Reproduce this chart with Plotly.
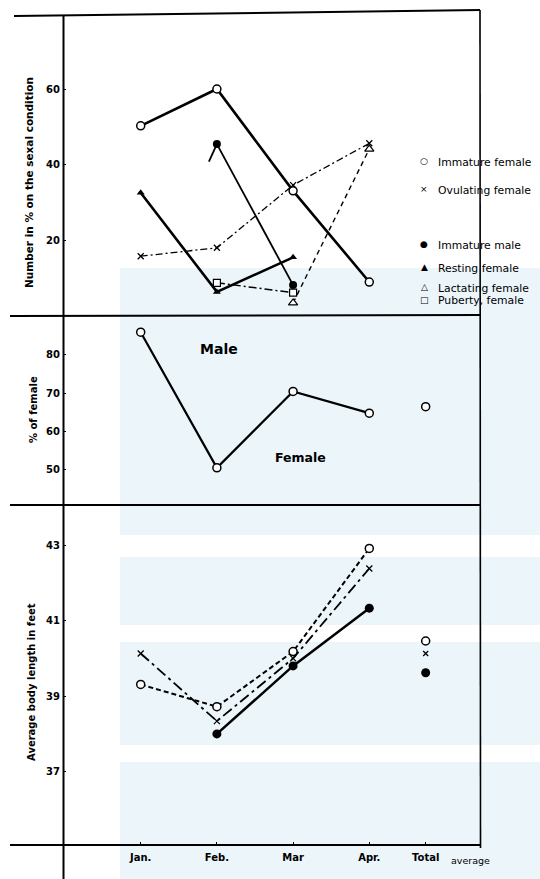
import plotly.graph_objects as go

# ---------------- data ----------------
months = ["Jan.", "Feb.", "Mar", "Apr."]
month_x = [1, 2, 3, 4]
total_x = 4.74
total_label = "Total"

# Panel 1: number in % on the sexual condition
imm_female_pct = [50.3, 60.0, 33.2, 9.2]
ovul_female_pct = [16.0, 18.2, 34.7, 45.7]
imm_male_x = [2, 3]
imm_male_pct = [45.5, 8.4]
imm_male_stub_x = [1.895, 2]
imm_male_stub_pct = [40.9, 45.5]
resting_x = [1, 2, 3]
resting_pct = [32.7, 6.6, 15.7]
lact_x = [3, 4]
lact_pct = [3.7, 44.2]
pub_x = [2, 3]
pub_pct = [9.0, 6.4]

# Panel 2: % of female
female_share = [86.0, 50.3, 70.4, 64.7]
female_share_total = 66.4

# Panel 3: average body length in feet
len_imm_female = [39.31, 38.72, 40.18, 42.91]
len_ovul = [40.13, 38.34, 40.0, 42.38]
len_male_x = [2, 3, 4]
len_male = [38.0, 39.8, 41.33]
len_total_female = 40.46
len_total_ovul = 40.13
len_total_male = 39.62

legend_items = ["Immature female", "Ovulating female", "Immature male",
                "Resting female", "Lactating female", "Puberty, female"]
legend_syms = ["○", "×", "●", "▲", "△", "□"]

# ---------------- layout helpers ----------------
W, H = 540, 879
L, R, T, B = 63, 60, 13, 34
PW, PH = W - L - R, H - T - B


def px(xp):
    return (xp - L) / PW


def py(yp):
    return (H - B - yp) / PH


FONT = "DejaVu Sans"
fig = go.Figure()

# ---- panel 1 ----
fig.add_trace(go.Scatter(x=month_x, y=imm_female_pct, yaxis="y", mode="lines+markers",
                         line=dict(color="black", width=2.6),
                         marker=dict(symbol="circle", size=8, color="white",
                                     line=dict(color="black", width=1.5))))
fig.add_trace(go.Scatter(x=month_x, y=ovul_female_pct, yaxis="y", mode="lines+markers",
                         line=dict(color="black", width=1.3, dash="7px,3px,2px,3px"),
                         marker=dict(symbol="x-thin", size=6, color="black",
                                     line=dict(color="black", width=1.3))))
fig.add_trace(go.Scatter(x=imm_male_stub_x, y=imm_male_stub_pct, yaxis="y", mode="lines",
                         line=dict(color="black", width=1.8)))
fig.add_trace(go.Scatter(x=imm_male_x, y=imm_male_pct, yaxis="y", mode="lines+markers",
                         line=dict(color="black", width=1.8),
                         marker=dict(symbol="circle", size=8, color="black")))
fig.add_trace(go.Scatter(x=resting_x, y=resting_pct, yaxis="y", mode="lines+markers",
                         line=dict(color="black", width=2.6),
                         marker=dict(symbol="triangle-up", size=7, color="black")))
fig.add_trace(go.Scatter(x=lact_x, y=lact_pct, yaxis="y", mode="lines+markers",
                         line=dict(color="black", width=1.4, dash="5px,4px"),
                         marker=dict(symbol="triangle-up", size=8, color="white",
                                     line=dict(color="black", width=1.2))))
fig.add_trace(go.Scatter(x=pub_x, y=pub_pct, yaxis="y", mode="lines+markers",
                         line=dict(color="black", width=1.5, dash="8px,3px,2px,3px"),
                         marker=dict(symbol="square", size=7, color="white",
                                     line=dict(color="black", width=1.2))))

# ---- panel 2 ----
fig.add_trace(go.Scatter(x=month_x, y=female_share, yaxis="y2", mode="lines+markers",
                         line=dict(color="black", width=2.2),
                         marker=dict(symbol="circle", size=8, color="white",
                                     line=dict(color="black", width=1.5))))
fig.add_trace(go.Scatter(x=[total_x], y=[female_share_total], yaxis="y2", mode="markers",
                         marker=dict(symbol="circle", size=8, color="white",
                                     line=dict(color="black", width=1.5))))

# ---- panel 3 ----
fig.add_trace(go.Scatter(x=month_x, y=len_imm_female, yaxis="y3", mode="lines+markers",
                         line=dict(color="black", width=2.0, dash="5px,3px"),
                         marker=dict(symbol="circle", size=8, color="white",
                                     line=dict(color="black", width=1.5))))
fig.add_trace(go.Scatter(x=month_x, y=len_ovul, yaxis="y3", mode="lines+markers",
                         line=dict(color="black", width=1.8, dash="11px,4px,3px,4px"),
                         marker=dict(symbol="x-thin", size=6, color="black",
                                     line=dict(color="black", width=1.3))))
fig.add_trace(go.Scatter(x=len_male_x, y=len_male, yaxis="y3", mode="lines+markers",
                         line=dict(color="black", width=2.5),
                         marker=dict(symbol="circle", size=9, color="black")))
fig.add_trace(go.Scatter(x=[total_x], y=[len_total_female], yaxis="y3", mode="markers",
                         marker=dict(symbol="circle", size=8, color="white",
                                     line=dict(color="black", width=1.5))))
fig.add_trace(go.Scatter(x=[total_x], y=[len_total_ovul], yaxis="y3", mode="markers",
                         marker=dict(symbol="x-thin", size=5, color="black",
                                     line=dict(color="black", width=1.3))))
fig.add_trace(go.Scatter(x=[total_x], y=[len_total_male], yaxis="y3", mode="markers",
                         marker=dict(symbol="circle", size=9, color="black")))

# ---------------- shapes ----------------
shapes = []
wm = "#ecf5fa"
for y0, y1 in [(268, 535), (557, 625), (642, 745), (762, 879)]:
    shapes.append(dict(type="rect", xref="paper", yref="paper", layer="below",
                       x0=px(120), x1=px(540), y0=py(y1), y1=py(y0),
                       fillcolor=wm, line=dict(width=0)))
lk = dict(color="black", width=2)
shapes += [
    dict(type="line", xref="paper", yref="paper", x0=px(14), y0=py(16), x1=px(480), y1=py(10), line=lk),
    dict(type="line", xref="paper", yref="paper", x0=px(10), y0=py(316), x1=px(480), y1=py(315), line=lk),
    dict(type="line", xref="paper", yref="paper", x0=px(10), y0=py(505), x1=px(480), y1=py(505), line=lk),
    dict(type="line", xref="paper", yref="paper", x0=px(10), y0=py(845), x1=px(480), y1=py(845), line=lk),
    dict(type="line", xref="paper", yref="paper", x0=px(63.5), y0=py(16), x1=px(63.5), y1=py(879), line=lk),
    dict(type="line", xref="paper", yref="paper", x0=px(480), y0=py(10), x1=px(480.5), y1=py(848),
         line=dict(color="black", width=1.6)),
]

# ---------------- annotations ----------------
ann = []
titles = [("Number in % on the sexal condition", 29, 183, 10.5),
          ("% of female", 33, 410, 10),
          ("Average body length in feet", 31, 682, 10)]
for t, xp, yp, fs in titles:
    ann.append(dict(text=t, x=px(xp), y=py(yp), xref="paper", yref="paper", showarrow=False,
                    textangle=-90, xanchor="center", yanchor="middle",
                    font=dict(family=FONT, size=fs, color="black", weight="bold")))
ann.append(dict(text="Male", x=px(198), y=py(349), xref="paper", yref="paper", showarrow=False,
                font=dict(family=FONT, size=14, color="black", weight="bold")))
ann.append(dict(text="Female", x=px(300), y=py(457), xref="paper", yref="paper", showarrow=False,
                font=dict(family=FONT, size=12.5, color="black", weight="bold")))
ann.append(dict(text="average", x=px(450), y=py(860), xref="paper", yref="paper", showarrow=False,
                xanchor="left", yanchor="middle", borderpad=0,
                font=dict(family=FONT, size=9.5, color="black")))
leg_y = [155, 183, 238, 261, 281, 300]
for name, sym, yp in zip(legend_items, legend_syms, leg_y):
    ann.append(dict(text=sym, x=px(424), y=py(yp), xref="paper", yref="paper", showarrow=False,
                    xanchor="center", borderpad=0, font=dict(family=FONT, size=9, color="black")))
    ann.append(dict(text=name, x=px(437), y=py(yp), xref="paper", yref="paper", showarrow=False,
                    xanchor="left", borderpad=0, font=dict(family=FONT, size=10.8, color="black")))

tickfont = dict(family=FONT, size=10, color="black", weight="bold")
yax_common = dict(showgrid=False, zeroline=False, showline=False, ticks="inside", ticklen=3,
                  tickcolor="black", tickfont=tickfont, anchor="x", ticklabelstandoff=2)

fig.update_layout(
    width=W, height=H, margin=dict(l=L, r=R, t=T, b=B),
    paper_bgcolor="white", plot_bgcolor="rgba(0,0,0,0)",
    showlegend=False,
    xaxis=dict(range=[-0.0197, 5.453], tickvals=month_x + [total_x], ticktext=months + [total_label],
               showgrid=False, zeroline=False, showline=False, ticks="inside", ticklen=3,
               tickcolor="black", tickfont=tickfont, anchor="y3", ticklabelstandoff=5),
    yaxis=dict(domain=[py(316), 1], range=[0.26, 80], tickvals=[20, 40, 60], **yax_common),
    yaxis2=dict(domain=[py(505), py(316)], range=[40.53, 90.26], tickvals=[50, 60, 70, 80], **yax_common),
    yaxis3=dict(domain=[0, py(505)], range=[35.06, 44.06], tickvals=[37, 39, 41, 43], **yax_common),
    shapes=shapes, annotations=ann,
)

fig.write_html("out.html", config={"displayModeBar": False},
               post_script="document.body.style.margin='0';"
                           "document.documentElement.style.overflow='hidden';")
